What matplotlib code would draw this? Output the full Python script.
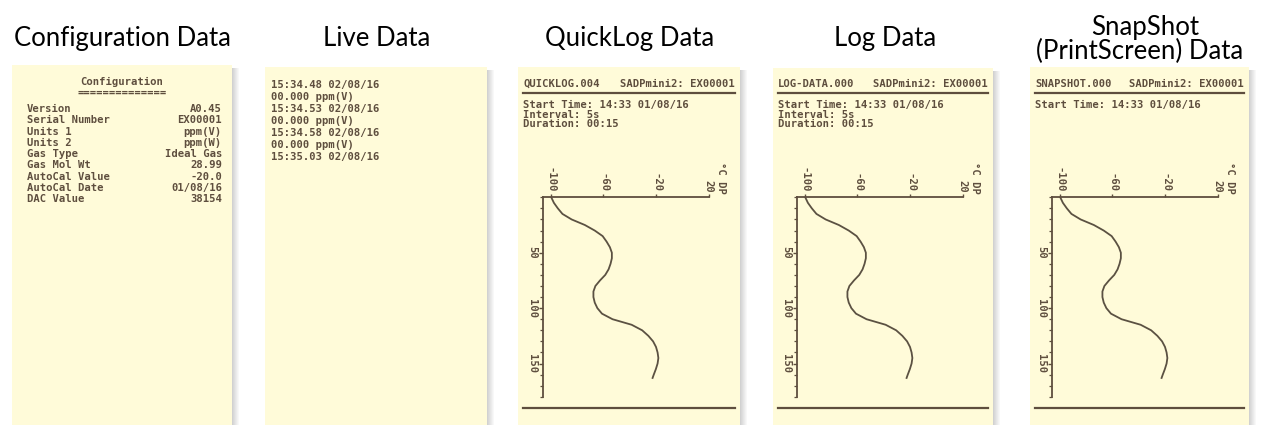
import numpy as np
import matplotlib.pyplot as plt
from matplotlib.patches import Rectangle
from matplotlib.ticker import MultipleLocator, FixedLocator

# Datos del reporte
titulos = ["Configuration Data", "Live Data", "QuickLog Data", "Log Data",
           "SnapShot\n(PrintScreen) Data"]

config_labels = ["Version", "Serial Number", "Units 1", "Units 2", "Gas Type",
                 "Gas Mol Wt", "AutoCal Value", "AutoCal Date", "DAC Value"]
config_values = ["A0.45", "EX00001", "ppm(V)", "ppm(W)", "Ideal Gas",
                 "28.99", "-20.0", "01/08/16", "38154"]

live_lines = ["15:34.48 02/08/16", "00.000 ppm(V)", "15:34.53 02/08/16",
              "00.000 ppm(V)", "15:34.58 02/08/16", "00.000 ppm(V)",
              "15:35.03 02/08/16"]

archivos = ["QUICKLOG.004", "LOG-DATA.000", "SNAPSHOT.000"]
equipo = "SADPmini2: EX00001"
info = [["Start Time: 14:33 01/08/16", "Interval: 5s", "Duration: 00:15"],
        ["Start Time: 14:33 01/08/16", "Interval: 5s", "Duration: 00:15"],
        ["Start Time: 14:33 01/08/16"]]

# curva de punto de rocio (muestra vs degC DP)
muestra = [0, 5, 10, 15, 20, 25, 30, 35, 40, 45, 50, 55, 60, 65, 70, 75, 80,
           85, 90, 95, 100, 105, 110, 115, 120, 125, 130, 135, 140, 145, 150,
           155, 160, 163]
dp = [-99.5, -97.5, -94.5, -91.0, -84.0, -74.0, -66.5, -60.5, -57.5, -55.0,
      -53.5, -53.5, -54.5, -56.0, -58.5, -62.5, -66.0, -67.5, -67.5, -66.5,
      -64.5, -61.0, -53.0, -38.5, -30.5, -25.8, -22.2, -20.0, -18.8, -18.2,
      -18.8, -20.1, -21.7, -22.6]
dp_ticks = [-100, -60, -20, 20]
t_ticks = [50, 100, 150]

W, H = 1261, 425
papel = '#fffbd9'
tinta = '#5e4e3e'
mono = 'DejaVu Sans Mono'
fs = 7.6
peso = 'bold'
fs_tit = 18.5

fig = plt.figure(figsize=(W / 100, H / 100), dpi=100)
bg = fig.add_axes([0, 0, 1, 1])
bg.set_xlim(0, W)
bg.set_ylim(H, 0)
bg.axis('off')

# x0, x1, y0 de cada hoja
hojas = [(12, 232, 65), (265, 487, 67), (518, 740, 67), (773, 993, 68), (1030, 1249, 67)]
centros = [122, 377, 630, 885, 1140]

for (x0, x1, y0), cx, tit in zip(hojas, centros, titulos):
    # sombra
    for i in range(8):
        bg.add_patch(Rectangle((x1 + i - 1, y0 + 3), 1.2, H - y0, color='#6f6f6f',
                               alpha=0.36 * (1 - i / 8), lw=0))
    bg.add_patch(Rectangle((x0, y0), x1 - x0, H - y0 + 2, facecolor=papel,
                           edgecolor='none'))
    if '\n' in tit:
        arriba, abajo = tit.split('\n')
        bg.text(cx + 5, 35, arriba, ha='center', va='baseline', fontsize=fs_tit,
                family='Lato', color='black')
        bg.text(cx, 59, abajo, ha='center', va='baseline', fontsize=fs_tit,
                family='Lato', color='black')
    else:
        bg.text(cx, 46, tit, ha='center', va='baseline', fontsize=fs_tit,
                family='Lato', color='black')

# hoja 1: configuracion
bg.text(122, 82, "Configuration", ha='center', va='center', fontsize=fs,
        family=mono, color=tinta, weight=peso)
bg.text(122, 93, "==============", ha='center', va='center', fontsize=fs,
        family=mono, color=tinta, weight=peso)
for i, (lab, val) in enumerate(zip(config_labels, config_values)):
    y = 109 + i * 11.3
    bg.text(27, y, lab, ha='left', va='center', fontsize=fs, family=mono,
            color=tinta, weight=peso)
    bg.text(222, y, val, ha='right', va='center', fontsize=fs, family=mono,
            color=tinta, weight=peso)

# hoja 2: datos en vivo
for i, linea in enumerate(live_lines):
    bg.text(271, 85 + i * 12, linea, ha='left', va='center', fontsize=fs,
            family=mono, color=tinta, weight=peso)

# hojas 3-5: registros
ejes_x = [542.7, 796.7, 1051.7]
for k, (x0, x1, y0) in enumerate(hojas[2:]):
    xl, xr = x0 + 5, x1 - 5
    bg.text(xl, 83.5, archivos[k], ha='left', va='center', fontsize=fs,
            family=mono, color=tinta, weight=peso)
    bg.text(xr, 83.5, equipo, ha='right', va='center', fontsize=fs,
            family=mono, color=tinta, weight=peso)
    bg.plot([xl, xr], [93, 93], color=tinta, lw=1.6)
    for j, linea in enumerate(info[k]):
        bg.text(xl, 105 + j * 9.5, linea, ha='left', va='center', fontsize=fs,
                family=mono, color=tinta, weight=peso)
    bg.plot([xl, xr], [408, 408], color=tinta, lw=1.6)

    # grafico girado
    ax_l, ax_t, ax_w, ax_h = ejes_x[k], 197.3, 166, 199.5
    ax = fig.add_axes([ax_l / W, 1 - (ax_t + ax_h) / H, ax_w / W, ax_h / H])
    ax.patch.set_alpha(0)
    ax.plot(dp, muestra, color='#5b5142', lw=1.3)
    ax.set_xlim(-106, 20)
    ax.set_ylim(180, 0)
    for s in ['right', 'bottom']:
        ax.spines[s].set_visible(False)
    for s in ['top', 'left']:
        ax.spines[s].set_color(tinta)
        ax.spines[s].set_linewidth(1.3)
    ax.xaxis.tick_top()
    ax.xaxis.set_major_locator(FixedLocator(dp_ticks))
    ax.set_xticklabels([str(v) for v in dp_ticks], rotation=-90, family=mono,
                       fontsize=fs, color=tinta, weight=peso)
    ax.yaxis.set_major_locator(FixedLocator(t_ticks))
    ax.yaxis.set_minor_locator(MultipleLocator(10))
    ax.set_yticklabels([str(v) for v in t_ticks], rotation=-90, family=mono,
                       fontsize=fs, color=tinta, va='center', weight=peso)
    ax.tick_params(axis='x', length=2.5, width=1.0, color=tinta, pad=1)
    ax.tick_params(axis='y', which='major', length=3, width=1.0, color=tinta, pad=1)
    ax.tick_params(axis='y', which='minor', length=2, width=0.9, color=tinta)
    ax.text(29, -3, "°C DP", rotation=-90, ha='center', va='bottom',
            fontsize=fs, family=mono, color=tinta, clip_on=False, weight=peso)

fig.savefig('out.png', dpi=100)
